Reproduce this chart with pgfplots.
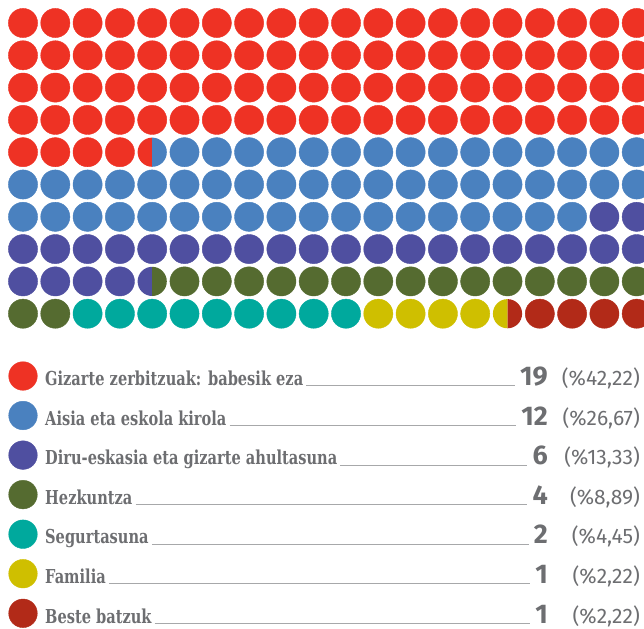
\documentclass[border=0pt]{standalone}
\usepackage{pgfplots}
\pgfplotsset{compat=1.18}
\usepackage{pgfplotstable}
\usepackage{fontspec}
\setmainfont{Fira Sans}
\newfontfamily\labfont[FakeStretch=0.76]{DejaVu Serif}
\newfontfamily\numfont{Fira Sans}
\definecolor{cA}{HTML}{EE3224}
\definecolor{cB}{HTML}{4A81BF}
\definecolor{cC}{HTML}{4F4FA0}
\definecolor{cD}{HTML}{556B30}
\definecolor{cE}{HTML}{00A99D}
\definecolor{cF}{HTML}{CFBF00}
\definecolor{cG}{HTML}{B22A18}
\definecolor{txt}{HTML}{6D6E71}
\definecolor{linec}{HTML}{A7A8AA}
\pgfdeclareplotmark{lhalf}{\pgfpathmoveto{\pgfqpoint{0pt}{\pgfplotmarksize}}\pgfpatharc{90}{270}{\pgfplotmarksize}\pgfpathclose\pgfusepathqfill}
\pgfdeclareplotmark{rhalf}{\pgfpathmoveto{\pgfqpoint{0pt}{-\pgfplotmarksize}}\pgfpatharc{-90}{90}{\pgfplotmarksize}\pgfpathclose\pgfusepathqfill}

% waffle cells: column c (1..20), row r (1..10)
\pgfplotstableread[row sep=\\]{c r\\
1 1\\2 1\\3 1\\4 1\\5 1\\6 1\\7 1\\8 1\\9 1\\10 1\\11 1\\12 1\\13 1\\14 1\\15 1\\16 1\\17 1\\18 1\\19 1\\20 1\\
1 2\\2 2\\3 2\\4 2\\5 2\\6 2\\7 2\\8 2\\9 2\\10 2\\11 2\\12 2\\13 2\\14 2\\15 2\\16 2\\17 2\\18 2\\19 2\\20 2\\
1 3\\2 3\\3 3\\4 3\\5 3\\6 3\\7 3\\8 3\\9 3\\10 3\\11 3\\12 3\\13 3\\14 3\\15 3\\16 3\\17 3\\18 3\\19 3\\20 3\\
1 4\\2 4\\3 4\\4 4\\5 4\\6 4\\7 4\\8 4\\9 4\\10 4\\11 4\\12 4\\13 4\\14 4\\15 4\\16 4\\17 4\\18 4\\19 4\\20 4\\
1 5\\2 5\\3 5\\4 5\\}\tA
\pgfplotstableread[row sep=\\]{c r\\
6 5\\7 5\\8 5\\9 5\\10 5\\11 5\\12 5\\13 5\\14 5\\15 5\\16 5\\17 5\\18 5\\19 5\\20 5\\
1 6\\2 6\\3 6\\4 6\\5 6\\6 6\\7 6\\8 6\\9 6\\10 6\\11 6\\12 6\\13 6\\14 6\\15 6\\16 6\\17 6\\18 6\\19 6\\20 6\\
1 7\\2 7\\3 7\\4 7\\5 7\\6 7\\7 7\\8 7\\9 7\\10 7\\11 7\\12 7\\13 7\\14 7\\15 7\\16 7\\17 7\\18 7\\}\tB
\pgfplotstableread[row sep=\\]{c r\\
19 7\\20 7\\
1 8\\2 8\\3 8\\4 8\\5 8\\6 8\\7 8\\8 8\\9 8\\10 8\\11 8\\12 8\\13 8\\14 8\\15 8\\16 8\\17 8\\18 8\\19 8\\20 8\\
1 9\\2 9\\3 9\\4 9\\}\tC
\pgfplotstableread[row sep=\\]{c r\\
6 9\\7 9\\8 9\\9 9\\10 9\\11 9\\12 9\\13 9\\14 9\\15 9\\16 9\\17 9\\18 9\\19 9\\20 9\\
1 10\\2 10\\}\tD
\pgfplotstableread[row sep=\\]{c r\\
3 10\\4 10\\5 10\\6 10\\7 10\\8 10\\9 10\\10 10\\11 10\\}\tE
\pgfplotstableread[row sep=\\]{c r\\
12 10\\13 10\\14 10\\15 10\\}\tF
\pgfplotstableread[row sep=\\]{c r\\
17 10\\18 10\\19 10\\20 10\\}\tG

\newcommand\legrow[7]{% id, colour, baseline y, circle y, label, count, percent
  \addplot[only marks, mark=*, mark size=14.3pt, color=#2] coordinates {(23,#4)};
  \node[anchor=base west, inner sep=0pt, text depth=0pt, text=txt, font=\labfont\bfseries\fontsize{19.2}{20}\selectfont] (L#1) at (axis cs:45,#3) {#5};
  \node[anchor=base east, inner sep=0pt, text depth=0pt, text=txt, font=\numfont\bfseries\fontsize{27}{28}\selectfont] (N#1) at (axis cs:548,#3) {#6};
  \node[anchor=base east, inner sep=0pt, text depth=0pt, text=txt, font=\numfont\fontsize{21}{22}\selectfont] at (axis cs:640,#3) {#7};
  \draw[linec, line width=0.6pt] ([xshift=3pt]L#1.base east) -- ([xshift=-5pt]N#1.base west);
}

\begin{document}
\begin{tikzpicture}
\begin{axis}[x=1pt, y=1pt, xmin=0, xmax=644, ymin=0, ymax=628, y dir=reverse,
  hide axis, clip=false]
\def\wx{23+32.3*(\thisrow{c}-1)}
\def\wy{23+32.3*(\thisrow{r}-1)}
\addplot[only marks, mark=*, mark size=14.6pt, color=cA] table[x expr=\wx, y expr=\wy] {\tA};
\addplot[only marks, mark=*, mark size=14.6pt, color=cB] table[x expr=\wx, y expr=\wy] {\tB};
\addplot[only marks, mark=*, mark size=14.6pt, color=cC] table[x expr=\wx, y expr=\wy] {\tC};
\addplot[only marks, mark=*, mark size=14.6pt, color=cD] table[x expr=\wx, y expr=\wy] {\tD};
\addplot[only marks, mark=*, mark size=14.6pt, color=cE] table[x expr=\wx, y expr=\wy] {\tE};
\addplot[only marks, mark=*, mark size=14.6pt, color=cF] table[x expr=\wx, y expr=\wy] {\tF};
\addplot[only marks, mark=*, mark size=14.6pt, color=cG] table[x expr=\wx, y expr=\wy] {\tG};
% split cells
\addplot[only marks, mark=lhalf, mark size=14.6pt, color=cA] coordinates {(152.2,152.2)};
\addplot[only marks, mark=rhalf, mark size=14.6pt, color=cB] coordinates {(152.2,152.2)};
\addplot[only marks, mark=lhalf, mark size=14.6pt, color=cC] coordinates {(152.2,281.4)};
\addplot[only marks, mark=rhalf, mark size=14.6pt, color=cD] coordinates {(152.2,281.4)};
\addplot[only marks, mark=lhalf, mark size=14.6pt, color=cF] coordinates {(507.5,313.7)};
\addplot[only marks, mark=rhalf, mark size=14.6pt, color=cG] coordinates {(507.5,313.7)};
% legend
\legrow{1}{cA}{385.7}{376.0}{Gizarte zerbitzuak: babesik eza}{19}{(\%42,22)}
\legrow{2}{cB}{425.2}{415.5}{Aisia eta eskola kirola}{12}{(\%26,67)}
\legrow{3}{cC}{464.8}{455.1}{Diru-eskasia eta gizarte ahultasuna}{6}{(\%13,33)}
\legrow{4}{cD}{504.3}{494.6}{Hezkuntza}{4}{(\%8,89)}
\legrow{5}{cE}{543.9}{534.2}{Segurtasuna}{2}{(\%4,45)}
\legrow{6}{cF}{583.4}{573.7}{Familia}{1}{(\%2,22)}
\legrow{7}{cG}{623.0}{613.3}{Beste batzuk}{1}{(\%2,22)}
\end{axis}
\pgfresetboundingbox
\path[use as bounding box] (current axis.south west) rectangle (current axis.north east);
\end{tikzpicture}
\end{document}
